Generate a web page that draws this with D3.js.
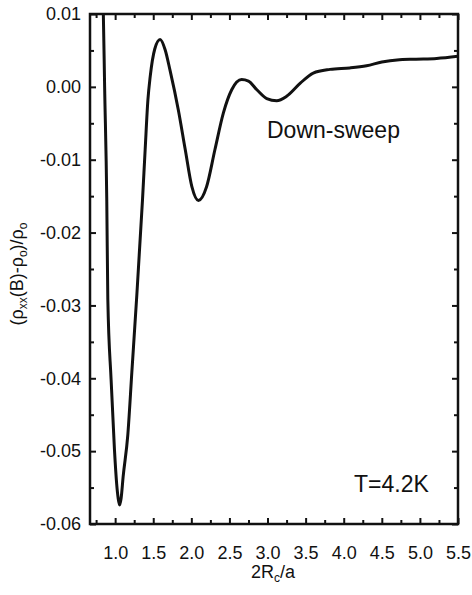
<!DOCTYPE html>
<html>
<head>
<meta charset="utf-8">
<script src="https://cdn.jsdelivr.net/npm/d3@7"></script>
<style>
  body { margin: 0; background: #fff; }
  text { font-family: "Liberation Sans", Arial, sans-serif; fill: #111; }
</style>
</head>
<body>
<div id="chart-area"></div>
<script>
// data
const xValues = [0.84, 0.845, 0.862, 0.89, 0.904, 0.947, 0.991, 1.02, 1.04, 1.058, 1.078, 1.105, 1.166, 1.219, 1.285,
  1.359, 1.394, 1.43, 1.46, 1.52, 1.59, 1.656, 1.72, 1.83, 1.92, 2.007, 2.093, 2.2, 2.31, 2.42, 2.53,
  2.66, 2.75, 2.86, 2.99, 3.12, 3.25, 3.43, 3.6, 3.82, 4.08, 4.3, 4.5, 4.7, 4.95, 5.22, 5.5]
const yValues = [0.012, 0.01, 0.0, -0.0155, -0.0292, -0.0402, -0.0498, -0.0545, -0.0565, -0.0574, -0.0565, -0.0535, -0.0478, -0.0392, -0.0285,
  -0.0155, -0.0086, -0.0018, 0.0014, 0.0052, 0.0065, 0.0051, 0.0023, -0.0032, -0.0086, -0.0137, -0.0156, -0.0137, -0.0086, -0.0036, -0.0004,
  0.001, 0.0008, -0.0004, -0.0016, -0.0019, -0.0013, 0.0005, 0.0019, 0.0024, 0.0026, 0.0029, 0.0034, 0.0037, 0.0038, 0.0039, 0.0042]
const xTicks = [1.0, 1.5, 2.0, 2.5, 3.0, 3.5, 4.0, 4.5, 5.0, 5.5]
const xMinorTicks = [0.75, 1.25, 1.75, 2.25, 2.75, 3.25, 3.75, 4.25, 4.75, 5.25]
const yTicks = [0.01, 0.0, -0.01, -0.02, -0.03, -0.04, -0.05, -0.06]
const yMinorTicks = [0.005, -0.005, -0.015, -0.025, -0.035, -0.045, -0.055]

const MARGIN = { LEFT: 90, RIGHT: 14, TOP: 14, BOTTOM: 71 }
const WIDTH = 472 - MARGIN.LEFT - MARGIN.RIGHT
const HEIGHT = 595 - MARGIN.TOP - MARGIN.BOTTOM

const svg = d3.select("#chart-area").append("svg")
  .attr("width", 472)
  .attr("height", 595)

const g = svg.append("g")
  .attr("transform", `translate(${MARGIN.LEFT}, ${MARGIN.TOP})`)

const x = d3.scaleLinear().domain([0.67, 5.5]).range([0, WIDTH])
const y = d3.scaleLinear().domain([-0.06, 0.01]).range([HEIGHT, 0])

const fmtY = d => d3.format(".2f")(d).replace("\u2212", "-")

// axes: major + minor ticks, all pointing inward
function styleAxis(sel) {
  sel.select(".domain").remove()
  sel.selectAll(".tick line")
    .attr("stroke", "#111")
    .style("stroke-width", "2px")
}

function addAxis(axis, tx, ty) {
  return g.append("g")
    .attr("transform", `translate(${tx}, ${ty})`)
    .call(axis)
    .call(styleAxis)
}

const xAx = addAxis(d3.axisBottom(x).tickValues(xTicks).tickSize(-6).tickFormat(d3.format(".1f")), 0, HEIGHT)
xAx.selectAll("text").attr("y", 22).attr("font-size", "18px")
addAxis(d3.axisBottom(x).tickValues(xMinorTicks).tickSize(-4).tickFormat(""), 0, HEIGHT)
addAxis(d3.axisTop(x).tickValues(xTicks).tickSize(-6).tickFormat(""), 0, 0)
addAxis(d3.axisTop(x).tickValues(xMinorTicks).tickSize(-4).tickFormat(""), 0, 0)

const yAx = addAxis(d3.axisLeft(y).tickValues(yTicks).tickSize(-6).tickFormat(fmtY), 0, 0)
yAx.selectAll("text").attr("x", -9).attr("font-size", "18px")
addAxis(d3.axisLeft(y).tickValues(yMinorTicks).tickSize(-4).tickFormat(""), 0, 0)
addAxis(d3.axisRight(y).tickValues(yTicks).tickSize(-6).tickFormat(""), WIDTH, 0)
addAxis(d3.axisRight(y).tickValues(yMinorTicks).tickSize(-4).tickFormat(""), WIDTH, 0)

// frame
g.append("rect")
  .attr("width", WIDTH).attr("height", HEIGHT)
  .attr("fill", "none").attr("stroke", "#111").attr("stroke-width", 2.5)

// curve
g.append("clipPath").attr("id", "clip")
  .append("rect").attr("width", WIDTH).attr("height", HEIGHT)

const points = xValues.map((v, i) => [v, yValues[i]])
const line = d3.line()
  .x(d => x(d[0]))
  .y(d => y(d[1]))
  .curve(d3.curveMonotoneX)

g.append("path")
  .datum(points)
  .attr("clip-path", "url(#clip)")
  .attr("fill", "none")
  .attr("stroke", "#111")
  .attr("stroke-width", 3)
  .attr("stroke-linejoin", "round")
  .attr("d", line)

// annotations
g.append("text")
  .attr("x", 177).attr("y", 124)
  .attr("font-size", "23px")
  .text("Down-sweep")

g.append("text")
  .attr("x", 264).attr("y", 478)
  .attr("font-size", "23px")
  .text("T=4.2K")

// X label
const xl = svg.append("text")
  .attr("x", 273).attr("y", 578)
  .attr("font-size", "18px")
  .attr("text-anchor", "middle")
xl.append("tspan").text("2R")
xl.append("tspan").attr("font-size", "12px").attr("dy", 4).text("c")
xl.append("tspan").attr("dy", -4).text("/a")

// Y label
const yl = svg.append("text")
  .attr("transform", "translate(23, 274) rotate(-90)")
  .attr("font-size", "18px")
  .attr("text-anchor", "middle")
yl.append("tspan").text("(ρ")
yl.append("tspan").attr("font-size", "12px").attr("dy", 4).text("xx")
yl.append("tspan").attr("dy", -4).text("(B)-ρ")
yl.append("tspan").attr("font-size", "12px").attr("dy", 4).text("o")
yl.append("tspan").attr("dy", -4).text(")/ρ")
yl.append("tspan").attr("font-size", "12px").attr("dy", 4).text("o")
</script>
</body>
</html>
